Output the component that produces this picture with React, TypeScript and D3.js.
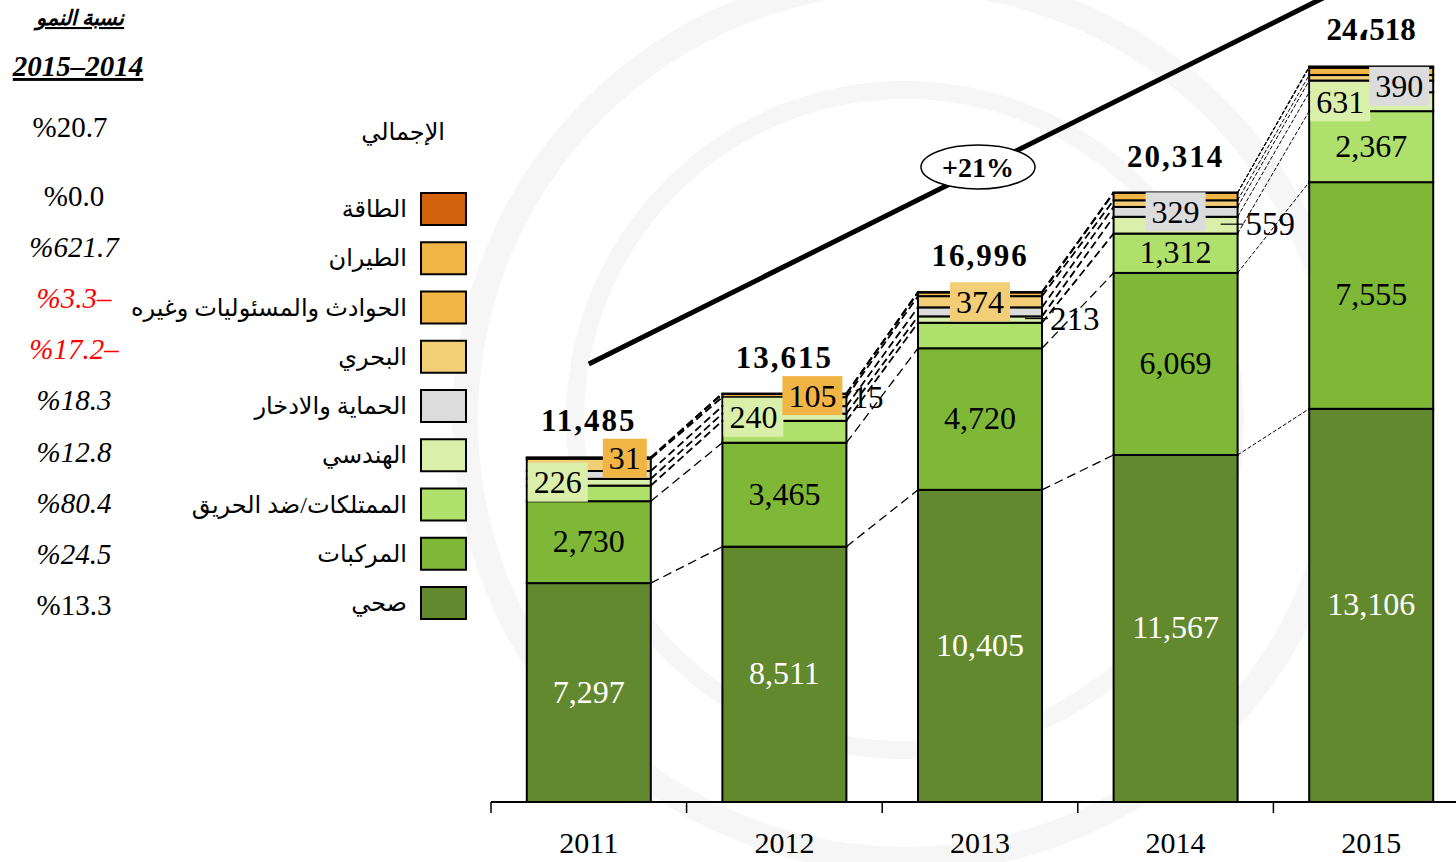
import React from 'react';
import * as d3 from 'd3';

const years = ['2011', '2012', '2013', '2014', '2015'];
const seriesNames = ['صحي', 'المركبات', 'الممتلكات/ضد الحريق', 'الهندسي', 'الحماية والادخار', 'البحري', 'الحوادث والمسئوليات وغيره', 'الطيران', 'الطاقة'];
const seriesColors = ['#62892e', '#7eb836', '#afe06c', '#daefaa', '#dcdcdc', '#f2ce76', '#f0b545', '#f0b545', '#d2620c'];
const health = [7297, 8511, 10405, 11567, 13106];
const motor = [2730, 3465, 4720, 6069, 7555];
const property = [520, 730, 850, 1312, 2367];
const engineering = [226, 240, 213, 559, 631];
const protection = [260, 250, 300, 329, 390];
const marine = [410, 299, 374, 221, 183];
const accidents = [31, 105, 124, 251, 243];
const aviation = [11, 15, 10, 6, 43];
const energy = [0, 0, 0, 0, 0];
const totalSeparators = [',', ',', ',', ',', '،'];
const growthTotal = 20.7;
const growth = [13.3, 24.5, 80.4, 12.8, 18.3, -17.2, -3.3, 621.7, 0.0];
const growthItalic = [false, true, true, true, true, true, true, true, false];
const trendFrom = 14600;
const trendTo = 27600;
const trendText = '+21%';
const periodText = '2015–2014';

// labels: year index, series index, placement
const boxLabels = [
  { y: 0, s: 3, pos: 'left' }, { y: 0, s: 6, pos: 'right' },
  { y: 1, s: 3, pos: 'left' }, { y: 1, s: 6, pos: 'right' }, { y: 1, s: 7, pos: 'outside' },
  { y: 2, s: 5, pos: 'center' }, { y: 2, s: 3, pos: 'leader' },
  { y: 3, s: 4, pos: 'center' }, { y: 3, s: 3, pos: 'leader' },
  { y: 4, s: 3, pos: 'left' }, { y: 4, s: 4, pos: 'right' },
];

const series = [health, motor, property, engineering, protection, marine, accidents, aviation, energy];
const SERIF = "'Liberation Serif', 'Times New Roman', 'DejaVu Sans', serif";

export default function App() {
  const W = 1456, H = 862;
  const x = d3.scaleBand<string>().domain(years).range([491, 491 + 5 * 195.6]).paddingInner(0.366).paddingOuter(0.183);
  const y = d3.scaleLinear().domain([0, 24518]).range([802, 802 - 24518 * 0.03]);
  const bw = x.bandwidth();
  const table = years.map((yr, i) => {
    const row: any = { year: yr };
    series.forEach((s, k) => (row['s' + k] = s[i]));
    return row;
  });
  const stack = d3.stack().keys(series.map((_, k) => 's' + k))(table as any);
  const totals = years.map((_, i) => d3.sum(series, (s) => s[i]));
  const fmt = d3.format(',');

  const seriesLines: JSX.Element[] = [];
  for (let i = 0; i < years.length - 1; i++) {
    const thin = i === 3;
    for (let k = 0; k < series.length; k++) {
      const a = stack[k][i][1];
      const b = stack[k][i + 1][1];
      seriesLines.push(
        <line key={`sl${i}-${k}`} x1={x(years[i])! + bw} y1={y(a)} x2={x(years[i + 1])!} y2={y(b)}
          stroke="#000" strokeWidth={thin ? 1 : k < 2 ? 1.3 : 1.8} strokeDasharray={thin ? '4,2' : k < 2 ? '9,5' : '8,4'} />
      );
    }
  }

  const legendRowY = (i: number) => 209 + i * 49.25; // i = 0 for top row (energy)
  const pctY = (i: number) => 196 + i * 51.1;
  const fmtPct = (v: number) => (v < 0 ? `%${Math.abs(v).toFixed(1)}–` : `%${v.toFixed(1)}`);

  const cx0 = x(years[0])! + bw / 2;
  const cx4 = x(years[4])! + bw / 2;

  return (
    <svg width={W} height={H} style={{ position: 'absolute', left: 0, top: 0, display: 'block', background: '#fff' }}>
      {/* faint watermark */}
      <g fill="none" stroke="#f5f6f5">
        <circle cx={905} cy={420} r={440} strokeWidth={26} />
        <circle cx={905} cy={420} r={330} strokeWidth={18} />
      </g>

      {/* legend header */}
      <text x={80} y={25} fontFamily={SERIF} fontSize={21} fontWeight="bold" fontStyle="italic" textAnchor="middle" textDecoration="underline">نسبة النمو</text>
      <text x={78} y={76} fontFamily={SERIF} fontSize={29} fontWeight="bold" fontStyle="italic" textAnchor="middle" textDecoration="underline" direction="ltr">{periodText}</text>
      <text x={445} y={140} fontFamily={SERIF} fontSize={24} textAnchor="end">الإجمالي</text>
      <text x={70} y={137} fontFamily={SERIF} fontSize={29} textAnchor="middle" direction="ltr">{fmtPct(growthTotal)}</text>

      {series.map((_, k) => {
        const row = series.length - 1 - k;
        const cy = legendRowY(row);
        return (
          <g key={'lg' + k}>
            <rect x={421} y={cy - 16} width={45} height={32} fill={seriesColors[k]} stroke="#000" strokeWidth={2} />
            <text x={407} y={cy + 8} fontFamily={SERIF} fontSize={24} textAnchor="end">{seriesNames[k]}</text>
            <text x={74} y={pctY(row) + 10} fontFamily={SERIF} fontSize={29} textAnchor="middle" direction="ltr"
              fontStyle={growthItalic[k] ? 'italic' : 'normal'} fill={growth[k] < 0 ? '#ff0000' : '#000'}>{fmtPct(growth[k])}</text>
          </g>
        );
      })}

      {/* trend line */}
      <line x1={cx0} y1={y(trendFrom)} x2={cx4} y2={y(trendTo)} stroke="#000" strokeWidth={5} />
      <ellipse cx={978} cy={167} rx={57} ry={22} fill="#fff" stroke="#000" strokeWidth={1.5} />
      <text x={978} y={177} fontFamily={SERIF} fontSize={28} fontWeight="bold" textAnchor="middle" direction="ltr">{trendText}</text>

      {seriesLines}

      {/* bars */}
      {stack.map((layer, k) => (
        <g key={'layer' + k}>
          {layer.map((d, i) => (
            <rect key={i} x={x(years[i])} y={y(d[1])} width={bw} height={Math.max(0, y(d[0]) - y(d[1]))}
              fill={seriesColors[k]} stroke="#000" strokeWidth={2} />
          ))}
        </g>
      ))}

      {/* in-bar labels: health and motor, property for last two */}
      {years.map((yr, i) => {
        const cx = x(yr)! + bw / 2;
        const mid = (k: number) => (y(stack[k][i][0]) + y(stack[k][i][1])) / 2;
        return (
          <g key={'lab' + i} fontFamily={SERIF} fontSize={32} textAnchor="middle">
            <text x={cx} y={mid(0) + 10} fill="#fff">{fmt(health[i])}</text>
            <text x={cx} y={mid(1) + 10} fill="#000">{fmt(motor[i])}</text>
            {i >= 3 && <text x={cx} y={mid(2) + 10} fill="#000">{fmt(property[i])}</text>}
            <text x={cx} y={y(totals[i]) - 26} fontSize={31} letterSpacing={2} fontWeight="bold" fill="#000">{fmt(totals[i]).replace(/,/g, totalSeparators[i])}</text>
          </g>
        );
      })}

      {/* boxed labels */}
      {boxLabels.map((L, j) => {
        const x0 = x(years[L.y])!;
        const mid = (y(stack[L.s][L.y][0]) + y(stack[L.s][L.y][1])) / 2;
        const val = series[L.s][L.y];
        const txt = String(val);
        const bwid = txt.length * 16 + 12;
        const bh = 39;
        if (L.pos === 'outside') {
          return <text key={j} x={x0 + bw + 6} y={mid + 14} fontFamily={SERIF} fontSize={31}>{txt}</text>;
        }
        if (L.pos === 'leader') {
          return (
            <g key={j}>
              <line x1={x0 + bw - 17} y1={mid - 1} x2={x0 + bw + 6} y2={mid - 1} stroke="#000" strokeWidth={1.2} />
              <text x={x0 + bw + 8} y={mid + 10} fontFamily={SERIF} fontSize={33}>{txt}</text>
            </g>
          );
        }
        let bx = x0 + 1;
        if (L.pos === 'right') bx = x0 + bw - bwid - 4;
        if (L.pos === 'center') bx = x0 + bw / 2 - bwid / 2;
        return (
          <g key={j}>
            <rect x={bx} y={mid - bh / 2} width={bwid} height={bh} fill={seriesColors[L.s]} />
            <text x={bx + bwid / 2} y={mid + 11} fontFamily={SERIF} fontSize={32} textAnchor="middle">{txt}</text>
          </g>
        );
      })}

      {/* axis */}
      <line x1={491} y1={802} x2={W} y2={802} stroke="#000" strokeWidth={2} />
      {years.map((yr) => {
        const bx = x(yr)! - x.step() * x.paddingOuter();
        return <line key={'t' + yr} x1={bx} y1={802} x2={bx} y2={813} stroke="#000" strokeWidth={1.5} />;
      })}
      {years.map((yr) => (
        <text key={'yl' + yr} x={x(yr)! + bw / 2} y={853} fontFamily={SERIF} fontSize={30} textAnchor="middle">{yr}</text>
      ))}
    </svg>
  );
}
